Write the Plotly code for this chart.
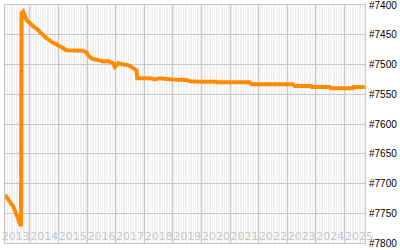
import plotly.graph_objects as go

dates = [
    "2013-02-16", "2013-04-19", "2013-06-02", "2013-07-15", "2013-08-26", "2013-09-08",
    "2013-09-15", "2013-10-07", "2013-11-19", "2014-01-01", "2014-02-12", "2014-04-15",
    "2014-05-29", "2014-08-01", "2014-10-04", "2014-12-07", "2015-02-09", "2015-04-13",
    "2015-08-19", "2015-11-10", "2015-12-24", "2016-01-10", "2016-02-26", "2016-04-30",
    "2016-07-23", "2016-09-25", "2016-11-28", "2016-12-19", "2017-01-31", "2017-04-05",
    "2017-06-08", "2017-08-10", "2017-09-23", "2017-09-30", "2018-03-10", "2018-05-13",
    "2018-07-16", "2018-12-28", "2019-06-21", "2019-08-03", "2019-12-08", "2020-07-08",
    "2020-07-20", "2021-09-06", "2021-09-28", "2023-03-11", "2023-04-03", "2023-11-01",
    "2023-11-11", "2024-06-23", "2024-07-05", "2025-04-16", "2025-04-23", "2025-09-15",
]
ranks = [
    7719, 7730, 7739, 7753, 7767, 7772,
    7414, 7411, 7425, 7431, 7436, 7442,
    7448, 7456, 7462, 7466, 7471, 7476,
    7476, 7477, 7480, 7484, 7490, 7492,
    7495, 7494, 7498, 7504, 7498, 7500,
    7501, 7506, 7510, 7523, 7523, 7525,
    7523, 7525, 7526, 7528, 7529, 7529,
    7530, 7530, 7533, 7533, 7536, 7536,
    7538, 7538, 7540, 7540, 7538, 7538,
]
y_ticks = [7400, 7450, 7500, 7550, 7600, 7650, 7700, 7750, 7800]
y_tick_labels = ["#" + str(v) for v in y_ticks]

fig = go.Figure()
fig.add_trace(go.Scatter(
    x=dates, y=ranks, mode="lines",
    line=dict(color="#ff8c00", width=4),
    hoverinfo="skip",
))

grid = "#c8c8c8"
fig.update_layout(
    width=400, height=250,
    margin=dict(l=5, r=35, t=5, b=7, autoexpand=False),
    paper_bgcolor="white", plot_bgcolor="#efefef",
    showlegend=False,
    xaxis=dict(
        range=["2013-02-16", "2025-09-18"],
        dtick="M12", tick0="2013-01-01",
        ticklabelmode="period",
        ticklabelposition="inside",
        ticklabeloverflow="allow",
        tickangle=0,
        automargin=False,
        tickformat="%Y",
        ticks="",
        showgrid=True, gridcolor=grid, gridwidth=1,
        showline=True, linecolor=grid, linewidth=1, mirror=True,
        tickfont=dict(family="DejaVu Sans", size=11, color="#c8c8c8"),
        minor=dict(dtick="M1", tick0="2013-01-01", showgrid=True,
                   gridcolor="white", gridwidth=1),
        zeroline=False,
    ),
    yaxis=dict(
        range=[7800, 7400],
        side="right",
        tickmode="array",
        tickvals=y_ticks,
        ticktext=y_tick_labels,
        ticks="",
        ticklabelstandoff=1,
        ticklabeloverflow="allow",
        automargin=False,
        showgrid=True, gridcolor=grid, gridwidth=1,
        showline=True, linecolor=grid, linewidth=1, mirror=True,
        tickfont=dict(family="Liberation Sans", size=10, color="black"),
        zeroline=False,
    ),
)
fig.write_html("out.html")
